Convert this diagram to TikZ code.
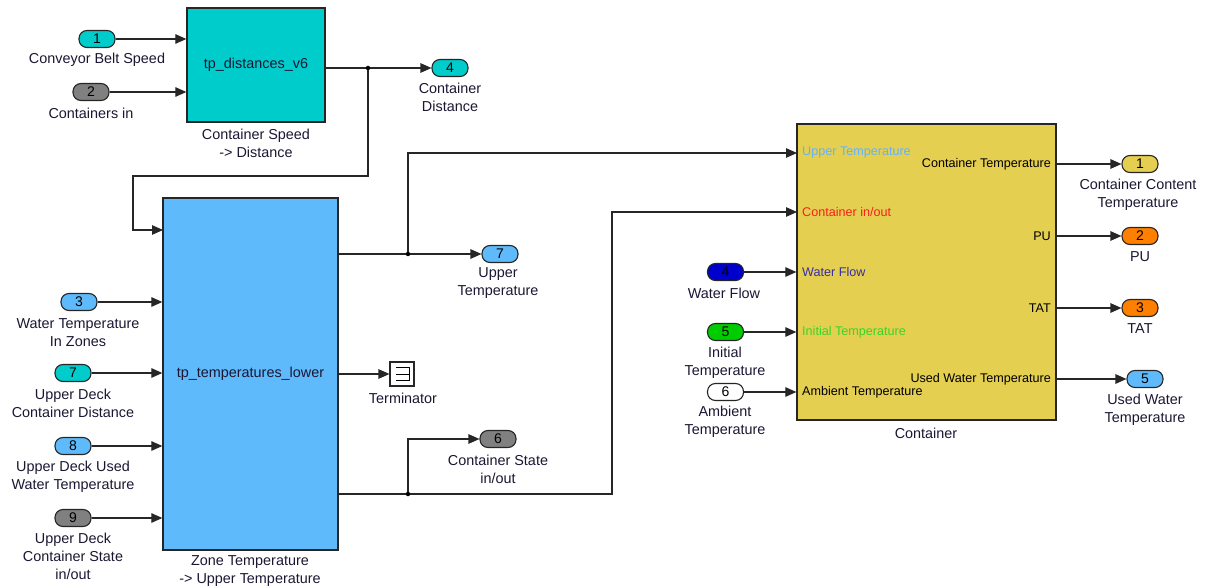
\documentclass[tikz,border=0pt]{standalone}
\usepackage{fontspec}
\setmainfont{Liberation Sans}
\usetikzlibrary{arrows.meta}
\definecolor{cy}{RGB}{0,204,204}
\definecolor{lb}{RGB}{95,186,252}
\definecolor{gr}{RGB}{128,128,128}
\definecolor{yc}{RGB}{229,207,80}
\definecolor{orc}{RGB}{255,128,0}
\definecolor{dbl}{RGB}{0,0,204}
\definecolor{grn}{RGB}{0,204,0}
\definecolor{txt}{RGB}{28,22,50}
\definecolor{ptlb}{RGB}{100,178,250}
\definecolor{ptred}{RGB}{250,30,30}
\definecolor{ptblue}{RGB}{55,45,170}
\definecolor{ptgrn}{RGB}{50,215,40}
\begin{document}
\begin{tikzpicture}[x=1pt,y=-1pt,
  blk/.style={draw=black!85, line width=1.3pt, inner sep=0, font=\fontsize{14.4}{18}\selectfont, text=txt},
  pill/.style={draw=black!85, line width=1.1pt, rounded corners=8pt, minimum width=36pt, minimum height=17pt, inner sep=0, font=\fontsize{14}{14}\selectfont},
  lbl/.style={align=center, inner sep=0, font=\fontsize{14.4}{18}\selectfont, text=txt, yshift=-1.5pt},
  plbl/.style={inner sep=0, font=\fontsize{12.6}{14}\selectfont},
  wire/.style={line width=1.2pt, draw=black!85},
  arr/.style={wire, -{Triangle[length=11pt,width=9.5pt]}},
  jdot/.style={circle, fill=black, inner sep=0, minimum size=4.5pt},
]
\useasboundingbox (0,0) rectangle (1205,588);

% ---- block 1
\node[blk, fill=cy, minimum width=138pt, minimum height=114pt] (b1) at (256,65) {tp\_distances\_v6};
\node[lbl] (b1cap) at (256,142) {Container Speed\\-> Distance};
\node[pill, fill=cy] (in1) at (97,39) {1};
\node[lbl] (in1l) at (97,58) {Conveyor Belt Speed};
\node[pill, fill=gr] (in2) at (91,92) {2};
\node[lbl] (in2l) at (91,112) {Containers in};
\node[pill, fill=cy] (out4) at (450,68) {4};
\node[lbl] (out4l) at (450,96) {Container\\Distance};
\draw[arr] (in1.east) -- (in1.east -| b1.west);
\draw[arr] (in2.east) -- (in2.east -| b1.west);
\coordinate (j1) at (368,68);
\draw[arr] (b1.east |- out4) -- (out4.west);

% ---- block 2
\node[blk, fill=lb, minimum width=175pt, minimum height=352pt] (b2) at (250.5,374) {tp\_temperatures\_lower};
\node[lbl] (b2cap) at (250,570) {Zone Temperature\\-> Upper Temperature};
\coordinate (c1) at (133,176);
\coordinate (b2i1) at (163,230);
\draw[arr] (j1) |- (c1) |- (b2i1);
\node[jdot] at (j1) {};

\node[pill, fill=lb] (in3) at (79,302) {3};
\node[lbl] (in3l) at (78,331) {Water Temperature\\In Zones};
\node[pill, fill=cy] (in7) at (73,373) {7};
\node[lbl] (in7l) at (73,402) {Upper Deck\\Container Distance};
\node[pill, fill=lb] (in8) at (73,446) {8};
\node[lbl] (in8l) at (73,475) {Upper Deck Used\\Water Temperature};
\node[pill, fill=gr] (in9) at (73,518) {9};
\node[lbl] (in9l) at (73,555) {Upper Deck\\Container State\\in/out};
\foreach \p in {in3,in7,in8,in9} \draw[arr] (\p.east) -- (\p.east -| b2.west);

% outputs of block 2
\node[pill, fill=lb] (out7) at (500,254) {7};
\node[lbl] (out7l) at (498,282) {Upper\\Temperature};
\coordinate (j2) at (408,254);
\draw[arr] (b2.east |- out7) -- (out7.west);

\node[draw=black!85, line width=1.1pt, fill=white, minimum width=24pt, minimum height=24pt, inner sep=0] (term) at (402,374) {};
\draw[line width=1pt] ([xshift=6.5pt,yshift=-5.8pt]term.north west) -- ([xshift=-5pt,yshift=-5.8pt]term.north east)
   -- ([xshift=-5pt,yshift=5.8pt]term.south east) -- ([xshift=6.5pt,yshift=5.8pt]term.south west);
\draw[line width=1pt] ([xshift=6.5pt]term.west) -- ([xshift=-5pt]term.east);
\node[lbl] (terml) at (403,397) {Terminator};
\draw[arr] (b2.east) -- (term.west);

\node[pill, fill=gr] (out6) at (498,439) {6};
\node[lbl] (out6l) at (498,468) {Container State\\in/out};
\coordinate (j3) at (408,494);
\coordinate (c2) at (612,494);

% ---- container
\node[blk, fill=yc, minimum width=259pt, minimum height=296pt] (cont) at (926.5,272) {};
\node[lbl] (contcap) at (926,432) {Container};
\coordinate (ci1) at (797,153);
\coordinate (ci2) at (797,212);
\draw[arr] (j2) |- (ci1);
\node[jdot] at (j2) {};
\draw[arr] (b2.east |- j3) -- (c2) |- (ci2);
\draw[arr] (j3) |- (out6.west);
\node[jdot] at (j3) {};

\node[plbl, anchor=west, text=ptlb] (p1) at (802,152) {Upper Temperature};
\node[plbl, anchor=west, text=ptred] (p2) at (802,212) {Container in/out};
\node[plbl, anchor=west, text=ptblue] (p3) at (802,272) {Water Flow};
\node[plbl, anchor=west, text=ptgrn] (p4) at (802,332) {Initial Temperature};
\node[plbl, anchor=west, text=black] (p5) at (802,392) {Ambient Temperature};
\node[plbl, anchor=east, text=black] (q1) at (1051,164) {Container Temperature};
\node[plbl, anchor=east, text=black] (q2) at (1051,236) {PU};
\node[plbl, anchor=east, text=black] (q3) at (1051,308) {TAT};
\node[plbl, anchor=east, text=black] (q4) at (1051,379) {Used Water Temperature};

\node[pill, fill=dbl] (ci4) at (725.5,272) {4};
\node[lbl] (ci4l) at (724,292) {Water Flow};
\node[pill, fill=grn] (ci5) at (725.5,332) {5};
\node[lbl] (ci5l) at (725,361) {Initial\\Temperature};
\node[pill, fill=white] (ci6) at (725.5,392) {6};
\node[lbl] (ci6l) at (725,420) {Ambient\\Temperature};
\foreach \p in {ci4,ci5,ci6} \draw[arr] (\p.east) -- (\p.east -| cont.west);

\node[pill, fill=yc] (co1) at (1140,164) {1};
\node[lbl] (co1l) at (1138,193) {Container Content\\Temperature};
\node[pill, fill=orc] (co2) at (1140,236) {2};
\node[lbl] (co2l) at (1140,255) {PU};
\node[pill, fill=orc] (co3) at (1140,308) {3};
\node[lbl] (co3l) at (1140,327) {TAT};
\node[pill, fill=lb] (co5) at (1145,379) {5};
\node[lbl] (co5l) at (1145,408) {Used Water\\Temperature};
\foreach \p in {co1,co2,co3,co5} \draw[arr] (cont.east |- \p) -- (\p.west);
\end{tikzpicture}
\end{document}
